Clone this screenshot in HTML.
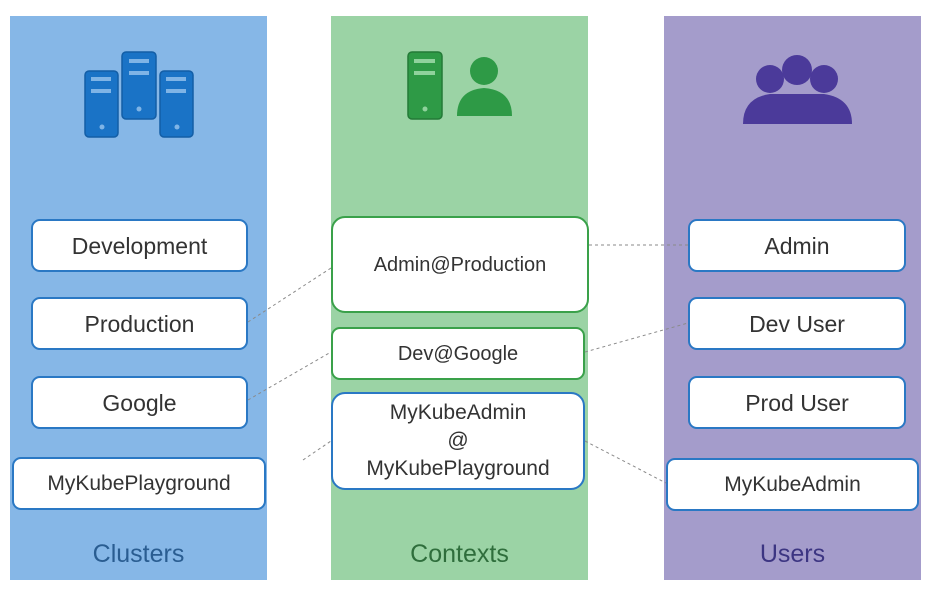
<!DOCTYPE html>
<html><head><style>
body{margin:0;width:934px;height:595px;background:#fff;position:relative;overflow:hidden;font-family:"Liberation Sans","DejaVu Sans",sans-serif}
.col{position:absolute;top:16px;height:564px;width:257px}
.b{position:absolute;background:#fff;border:2px solid #2a78c4;border-radius:9px;box-sizing:border-box;display:flex;align-items:center;justify-content:center;text-align:center;font-size:23px;color:#333;line-height:28px}
.g{border-color:#3aa14a}
.lab{position:absolute;top:540px;width:257px;text-align:center;font-size:25px}
</style></head><body>
<div class="col" style="left:10px;background:#86b7e7"></div>
<div class="col" style="left:331px;background:#9bd3a5"></div>
<div class="col" style="left:664px;background:#a49ccb"></div>
<svg width="934" height="595" style="position:absolute;left:0;top:0">
<g stroke="#8a8a8a" stroke-width="1" stroke-dasharray="3,3" fill="none">
<line x1="248" y1="322" x2="331" y2="268"/>
<line x1="248" y1="400" x2="331" y2="352"/>
<line x1="303" y1="460" x2="331" y2="441"/>
<line x1="589" y1="245" x2="688" y2="245"/>
<line x1="585" y1="352" x2="688" y2="323"/>
<line x1="585" y1="441" x2="666" y2="483"/>
</g>
<!-- servers -->
<g fill="#1a73c6" stroke="#135ea6" stroke-width="1.5">
<rect x="85" y="71" width="33" height="66" rx="4"/>
<rect x="122" y="52" width="34" height="67" rx="4"/>
<rect x="160" y="71" width="33" height="66" rx="4"/>
<rect x="408" y="52" width="34" height="67" rx="4" fill="#2e9a46" stroke="#237a37"/>
</g>
<g fill="#7fb4e6">
<rect x="91" y="77" width="20" height="4"/><rect x="91" y="89" width="20" height="4"/><circle cx="102" cy="127" r="2.5"/>
<rect x="129" y="59" width="20" height="4"/><rect x="129" y="71" width="20" height="4"/><circle cx="139" cy="109" r="2.5"/>
<rect x="166" y="77" width="20" height="4"/><rect x="166" y="89" width="20" height="4"/><circle cx="177" cy="127" r="2.5"/>
</g>
<g fill="#8fd29c"><rect x="414" y="59" width="21" height="4"/><rect x="414" y="71" width="21" height="4"/><circle cx="425" cy="109" r="2.5"/></g>
<g fill="#2e9a46"><circle cx="484" cy="71" r="14"/><path d="M457 116 Q457 90 484 88 Q512 90 512 116 Z"/></g>
<g fill="#4b3a9a"><circle cx="770" cy="79" r="14"/><circle cx="824" cy="79" r="14"/><circle cx="797" cy="70" r="15"/>
<path d="M743 124 Q743 98 770 94 L824 94 Q852 98 852 124 Z"/></g>
</svg>
<div class="b" style="left:31px;top:219px;width:217px;height:53px">Development</div>
<div class="b" style="left:31px;top:297px;width:217px;height:53px">Production</div>
<div class="b" style="left:31px;top:376px;width:217px;height:53px">Google</div>
<div class="b" style="left:12px;top:457px;width:254px;height:53px;font-size:21px">MyKubePlayground</div>
<div class="b g" style="left:331px;top:216px;width:258px;height:97px;font-size:20px;border-radius:14px">Admin@Production</div>
<div class="b g" style="left:331px;top:327px;width:254px;height:53px;font-size:20px">Dev@Google</div>
<div class="b" style="left:331px;top:392px;width:254px;height:98px;font-size:21px;border-radius:14px">MyKubeAdmin<br>@<br>MyKubePlayground</div>
<div class="b" style="left:688px;top:219px;width:218px;height:53px">Admin</div>
<div class="b" style="left:688px;top:297px;width:218px;height:53px">Dev User</div>
<div class="b" style="left:688px;top:376px;width:218px;height:53px">Prod User</div>
<div class="b" style="left:666px;top:458px;width:253px;height:53px;font-size:21px">MyKubeAdmin</div>
<div class="lab" style="left:10px;color:#2a5d91">Clusters</div>
<div class="lab" style="left:331px;color:#2f6e3c">Contexts</div>
<div class="lab" style="left:664px;color:#3c3582">Users</div>
</body></html>
